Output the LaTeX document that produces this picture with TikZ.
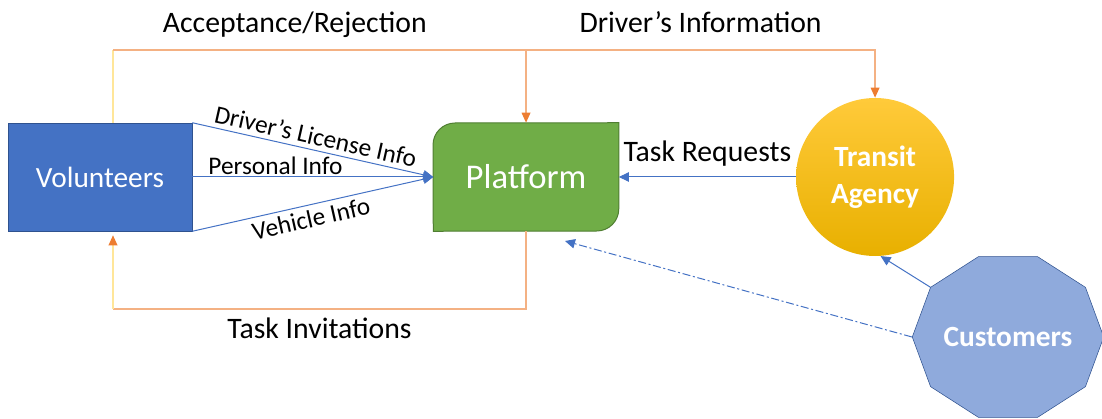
\documentclass[tikz,border=0pt]{standalone}
\usepackage{graphicx}
\usepackage{fontspec}
\setmainfont{Carlito}
\usetikzlibrary{arrows.meta,shapes.geometric,positioning,backgrounds}
\definecolor{volblue}{RGB}{68,114,196}
\definecolor{volborder}{RGB}{47,82,143}
\definecolor{platgreen}{RGB}{112,173,71}
\definecolor{platborder}{RGB}{80,126,50}
\definecolor{agencytop}{RGB}{255,202,58}
\definecolor{agencybot}{RGB}{232,176,0}
\definecolor{custblue}{RGB}{143,170,220}
\definecolor{linkblue}{RGB}{68,114,196}
\definecolor{floworange}{RGB}{237,125,49}
\definecolor{flowlight}{RGB}{244,177,131}
\definecolor{flowpale}{RGB}{255,230,153}

\begin{document}
\begin{tikzpicture}[x=0.75pt,y=0.75pt,
  lbl/.style={font=\fontsize{22.3}{26}\selectfont,text=black,anchor=base},
  infolbl/.style={font=\fontsize{19}{23}\selectfont,text=black},
  infolink/.style={draw=linkblue,line width=0.75pt,
    -{Triangle[length=7.5pt,width=7pt]}},
  flow/.style={draw=flowlight,line width=1pt,
    -{Triangle[length=7.5pt,width=6.5pt,color=floworange]}}]
\useasboundingbox (0,0) rectangle (1102,418);
\node[draw=volborder,fill=volblue,minimum width=138pt,minimum height=81pt,
      text=white,font=\fontsize{22}{26}\selectfont](vol) at (100,241)
  {Volunteers};
\node[minimum width=138.75pt,minimum height=81pt,text=white,
      font=\fontsize{26}{30}\selectfont,right=180.75pt of vol](plat)
  {Platform};
\begin{scope}[on background layer]
\fill[platgreen,draw=platborder,line width=0.75pt]
  (plat.south west) -- (433,273) arc[start angle=180,end angle=90,radius=16.5pt]
  -- (plat.north east) -- (618.75,209) arc[start angle=0,end angle=-90,radius=16.5pt]
  -- cycle;
\end{scope}
\node[circle,minimum size=118.5pt,inner sep=0pt,top color=agencytop,
      bottom color=agencybot,text=white,align=center,
      font=\bfseries\fontsize{22}{28}\selectfont,right=132.75pt of plat](ta)
  {Transit\\Agency};
\begin{scope}[shift={(1008,81)},xscale=1.133]
\node[regular polygon,regular polygon sides=10,minimum size=124.5pt,
      inner sep=0pt,draw=volborder,fill=custblue,text=white,
      font=\bfseries\fontsize{22}{26}\selectfont,transform shape](cust)
  at (0,0) {\scalebox{0.883}[1]{Customers}};
\end{scope}
\coordinate (acc corner) at (113,368);
\coordinate (inv corner) at (113,109);
\coordinate (req tip) at (565,177);
% feedback to the volunteers and the agency
\draw[flowpale,line width=1pt] (vol.north -| acc corner) -- (acc corner);
\draw[flow] (acc corner) -| node[lbl,pos=0.22,yshift=12.75pt]
  {Acceptance/Rejection} (plat.north);
\draw[flow] (plat.north |- acc corner) -| node[lbl,pos=0.25,yshift=12.75pt]
  {Driver's Information} (ta.north);
\draw[flowlight,line width=1pt] (plat.south) |- node[lbl,pos=0.75,yshift=-22pt]
  {Task Invitations} (inv corner);
\draw[flow,draw=flowpale] (inv corner) -- ([yshift=-3pt]vol.south -| inv corner);
% information flows into the platform
\draw[infolink] (vol.north east) -- node[infolbl,sloped,above,midway]
  {Driver's License Info} (plat.west);
\draw[infolink] (vol.east) -- node[infolbl,anchor=base,yshift=2pt,pos=0.345]
  {Personal Info} (plat.west);
\draw[infolink] (vol.south east) -- node[infolbl,sloped,below,pos=0.48]
  {Vehicle Info} (plat.west);
\draw[infolink] (ta.west) -- node[lbl,yshift=11.25pt]{Task Requests} (plat.east);
\draw[infolink] (cust.144) -- (ta.-86);
\draw[infolink,dash pattern=on 6pt off 2pt on 1.5pt off 2pt] (cust.180)
  -- (req tip);
\end{tikzpicture}
\end{document}
